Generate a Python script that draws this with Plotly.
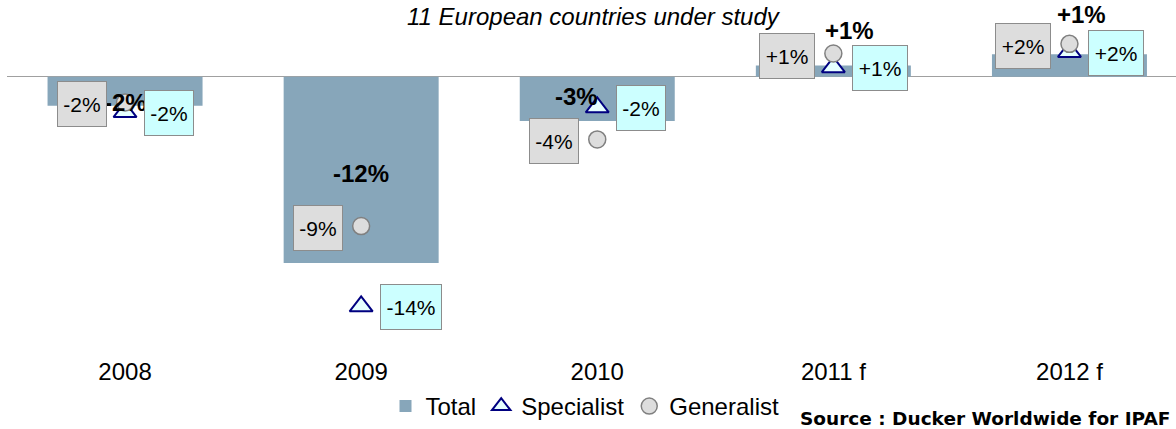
import plotly.graph_objects as go

# Yearly change in rental fleet value, 11 European countries
years = ["2008", "2009", "2010", "2011 f", "2012 f"]
total = [-1.8, -11.6, -2.75, 0.7, 1.4]
specialist = [-2.2, -14.3, -1.9, 0.6, 1.55]
generalist = [-1.6, -9.3, -3.9, 1.45, 2.05]

# Pixel nudges for the bold total labels (x, y)
total_label_shift = [(0, -11), (0, -4), (-21, 2), (16, 41), (12, 51)]

FONT = "Liberation Sans, Arial, sans-serif"
W, H = 1176, 429
M_L, M_R, M_T, M_B = 7, 0, 0, 73
PLOT_W = W - M_L - M_R
PLOT_H = H - M_T - M_B
PX_PER_PCT = 16.1
ZERO_PX = 77
CAT_PX = 236.1

BAR_COLOR = "#87A6BA"
GEN_FILL, GEN_LINE = "#DDDDDD", "#808080"
SPEC_FILL, SPEC_LINE = "#E6FFFF", "#000080"
BOX_GRAY, BOX_CYAN, BOX_EDGE = "#DDDDDD", "#CCFFFF", "#8C8C8C"

y_top = ZERO_PX / PX_PER_PCT
y_bot = -(PLOT_H - ZERO_PX) / PX_PER_PCT
x_lo = -0.5
x_hi = x_lo + PLOT_W / CAT_PX

x_idx = list(range(len(years)))


def pct(v):
    return f"{v:+.0f}%" if v > 0 else f"{v:.0f}%"


EM = {"-": 0.333, "+": 0.584, "%": 0.889}


def text_w(s, size):
    return sum(EM.get(c, 0.556) for c in s) * size


fig = go.Figure()
fig.add_trace(go.Bar(
    x=x_idx, y=total, name="Total",
    marker=dict(color=BAR_COLOR, line=dict(width=0)),
    width=155 / CAT_PX,
))
fig.add_trace(go.Scatter(
    x=x_idx, y=specialist, name="Specialist", mode="markers",
    marker=dict(symbol="triangle-up", size=20, color=SPEC_FILL,
                line=dict(color=SPEC_LINE, width=2)),
))
fig.add_trace(go.Scatter(
    x=x_idx, y=generalist, name="Generalist", mode="markers",
    marker=dict(symbol="circle", size=17, color=GEN_FILL,
                line=dict(color=GEN_LINE, width=1.5)),
))

annotations = []
# bold total labels
for i, v in enumerate(total):
    dx, dy = total_label_shift[i]
    annotations.append(dict(
        x=i, y=v / 2, xref="x", yref="y", text=f"<b>{pct(v)}</b>",
        showarrow=False, xshift=dx, yshift=dy,
        font=dict(family=FONT, size=24, color="black"),
    ))
# generalist boxes (left of the marker)
for i, v in enumerate(generalist):
    t = pct(v)
    annotations.append(dict(
        x=i, y=v, xref="x", yref="y", text=t, showarrow=False,
        xanchor="right", yanchor="middle", xshift=-18, yshift=-2,
        width=round(text_w(t, 21) + 9), height=42,
        bgcolor=BOX_GRAY, bordercolor=BOX_EDGE, borderwidth=1, borderpad=1,
        font=dict(family=FONT, size=21, color="black"),
    ))
# specialist boxes (right of the marker)
for i, v in enumerate(specialist):
    t = pct(v)
    annotations.append(dict(
        x=i, y=v, xref="x", yref="y", text=t, showarrow=False,
        xanchor="left", yanchor="middle", xshift=19, yshift=-1,
        width=round(text_w(t, 21) + 9), height=42,
        bgcolor=BOX_CYAN, bordercolor=BOX_EDGE, borderwidth=1, borderpad=1,
        font=dict(family=FONT, size=21, color="black"),
    ))
# subtitle and source
annotations.append(dict(
    x=(594 - M_L) / PLOT_W, y=1 - 1 / PLOT_H, xref="paper", yref="paper",
    text="<i>11 European countries under study</i>", showarrow=False,
    xanchor="center", yanchor="top",
    font=dict(family=FONT, size=24, color="black"),
))
annotations.append(dict(
    x=(798 - M_L) / PLOT_W, y=(PLOT_H - 420) / PLOT_H, xref="paper", yref="paper",
    text="<b>Source : Ducker Worldwide for IPAF</b>", showarrow=False,
    xanchor="left", yanchor="middle",
    font=dict(family="DejaVu Sans, sans-serif", size=18.5, color="black"),
))

fig.update_layout(
    width=W, height=H,
    margin=dict(l=M_L, r=M_R, t=M_T, b=M_B, pad=0),
    plot_bgcolor="white", paper_bgcolor="white",
    showlegend=True,
    legend=dict(
        orientation="h", x=(585 - M_L) / PLOT_W, y=(PLOT_H - 408) / PLOT_H,
        xanchor="center", yanchor="middle",
        font=dict(family=FONT, size=24, color="black"),
        itemwidth=30, tracegroupgap=0, bgcolor="rgba(0,0,0,0)",
    ),
    xaxis=dict(
        range=[x_lo, x_hi], tickmode="array", tickvals=x_idx, ticktext=years,
        showgrid=False, zeroline=False, showline=False, ticks="",
        tickfont=dict(family=FONT, size=24, color="black"),
        fixedrange=True,
    ),
    yaxis=dict(
        range=[y_bot, y_top], showgrid=False, showticklabels=False,
        zeroline=True, zerolinecolor="#A0A0A0", zerolinewidth=1,
        showline=False, ticks="", fixedrange=True,
    ),
    annotations=annotations,
    font=dict(family=FONT),
)

fig.write_html("out.html")
